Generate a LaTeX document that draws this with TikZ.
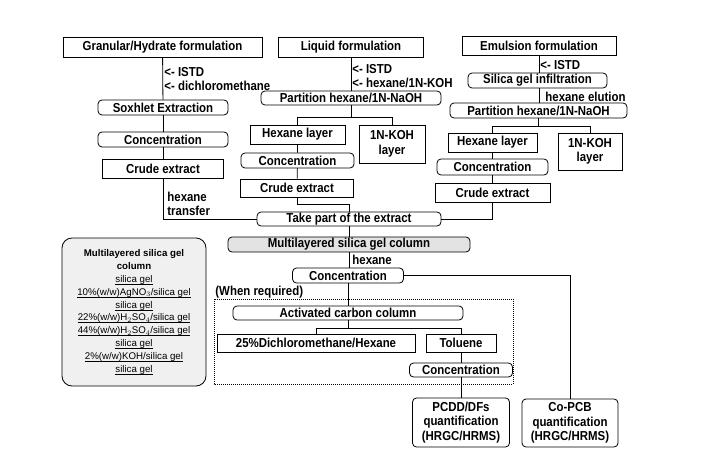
\documentclass[tikz,border=0pt]{standalone}
\usepackage{fontspec}
\setmainfont{Liberation Sans}[FakeStretch=0.88]
\newfontfamily\legfont{Liberation Sans}
\newcommand\legline[1]{\setbox0\hbox{#1}\rlap{\rule[-2pt]{\wd0}{0.5pt}}\box0}
\begin{document}
\begin{tikzpicture}[x=1pt,y=-1pt,line width=0.8pt,font=\fontsize{13}{14.5}\selectfont\bfseries,
box/.style n args={2}{draw,inner sep=0pt,minimum width=#1,minimum height=#2},
rbox/.style n args={2}{box={#1}{#2},rounded corners=4pt},
lbl/.style={anchor=west,inner sep=1pt}]
\useasboundingbox(0,0)rectangle(708,465);
\node[box={199pt}{20pt}](gran)at(162.5,47){Granular/Hydrate formulation};
\node[box={145pt}{20pt}](liq)at(351,47){Liquid formulation};
\node[box={154pt}{19pt}](emul)at(539,45.5){Emulsion formulation};
\node[rbox={130pt}{15pt}](sox)at(163,107.5){Soxhlet Extraction};
\node[rbox={130pt}{15pt}](conca)at(163,139.5){Concentration};
\node[box={121pt}{19pt}](crudea)at(163,168.5){Crude extract};
\node[rbox={180pt}{14pt}](partb)at(351,98){Partition hexane/1N-NaOH};
\node[box={95pt}{19pt}](hexb)at(297.5,134.5){Hexane layer};
\node[box={66pt}{38pt},align=center](kohb)at(392,144){1N-KOH\\layer};
\node[rbox={113pt}{15pt}](concb)at(297.5,160.5){Concentration};
\node[box={113pt}{18pt}](crudeb)at(297,188){Crude extract};
\node[rbox={139pt}{15pt}](silc)at(537.5,80.5){Silica gel infiltration};
\node[rbox={177pt}{15pt}](partc)at(538.5,110.5){Partition hexane/1N-NaOH};
\node[box={89pt}{19pt}](hexc)at(492.5,142.5){Hexane layer};
\node[box={64pt}{37pt},align=center](kohc)at(590,151.5){1N-KOH\\layer};
\node[rbox={111pt}{16pt}](concc)at(492.5,167){Concentration};
\node[box={115pt}{19pt}](crudec)at(492.5,192.5){Crude extract};
\node[rbox={184pt}{14pt}](take)at(349,219){Take part of the extract};
\node[rbox={242pt}{15pt},fill=gray!22](multi)at(349,244.5){Multilayered silica gel column};
\node[rbox={111pt}{15pt}](concd)at(348,275.5){Concentration};
\node[rbox={230pt}{14pt}](carbon)at(348,313){Activated carbon column};
\node[box={198pt}{18pt}](dcm)at(316,343){25\%Dichloromethane/Hexane};
\node[box={70pt}{18pt}](tol)at(461,343){Toluene};
\node[rbox={103pt}{14pt}](conce)at(461,370){Concentration};
\node[rbox={97pt}{49pt},align=center](pcdd)at(461,422.5){PCDD/DFs\\quantification\\(HRGC/HRMS)};
\node[rbox={96pt}{48pt},align=center](copcb)at(570,423){Co-PCB\\quantification\\(HRGC/HRMS)};
\node[draw,rounded corners=10pt,fill=gray!12,minimum width=144pt,minimum height=148pt,align=center,
  font=\legfont\fontsize{9.7}{12.8}\selectfont](legend)at(134,312){\textbf{Multilayered silica gel}\\\textbf{column}\\
  \legline{silica gel}\\\legline{10\%(w/w)AgNO$_3$/silica gel}\\\legline{silica gel}\\
  \legline{22\%(w/w)H$_2$SO$_4$/silica gel}\\\legline{44\%(w/w)H$_2$SO$_4$/silica gel}\\
  \legline{silica gel}\\\legline{2\%(w/w)KOH/silica gel}\\\legline{silica gel}};
\draw[densely dotted,line width=1pt](214,299)rectangle(513,384);
\node[lbl](istda)at(163,72){<- ISTD};
\node[lbl](dcma)at(163,86){<- dichloromethane};
\node[lbl](istdb)at(351,69){<- ISTD};
\node[lbl](kohadd)at(351,83){<- hexane/1N-KOH};
\node[lbl](istdc)at(539,65){<- ISTD};
\node[lbl](elut)at(544,97){hexane elution};
\node[lbl,align=left](transf)at(166,204){hexane\\transfer};
\node[lbl](hexd)at(351,260){hexane};
\node[lbl](req)at(214,292){(When required)};
\draw(gran)--(sox);
\draw(sox)--(conca)--(crudea);
\draw(crudea.south)|-(take.west);
\draw(liq)--(partb);
\draw(partb.south)--++(0,12)coordinate(splb);
\draw(hexb.north)|-(splb)-|(kohb.north);
\draw(hexb)--(concb)--(crudeb);
\draw(crudeb.south)--++(0,7)-|(take.north);
\draw(emul)--(emul|-silc.north)(emul|-silc.south)--(emul|-partc.north);
\draw(partc.south)--++(0,8)coordinate(splc);
\draw(hexc.north)|-(splc)-|(kohc.north);
\draw(hexc)--(concc)--(crudec);
\draw(crudec.south)|-(take.east);
\draw(take)--(multi)--(multi|-concd.north);
\draw(concd.east)-|(copcb.north);
\draw(concd)--(carbon);
\draw(carbon.south)--++(0,8)coordinate(sple);
\draw(dcm.north)|-(sple)-|(tol.north);
\draw(tol)--(conce)--(pcdd);
\end{tikzpicture}
\end{document}
